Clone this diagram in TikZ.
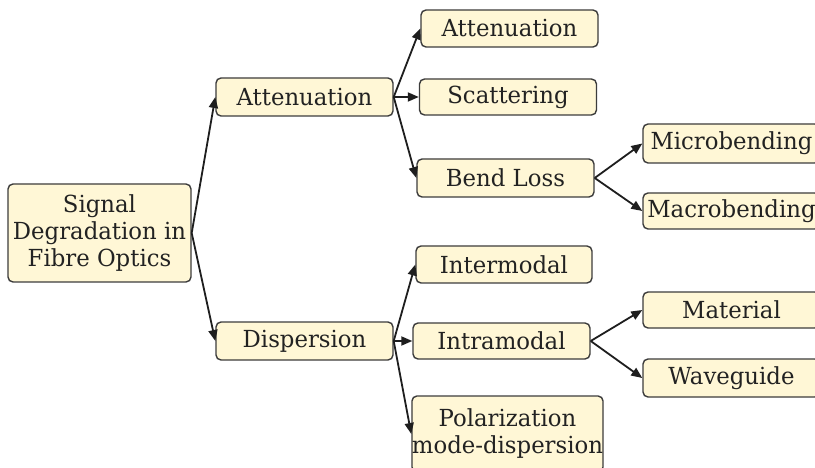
\documentclass[tikz,border=0pt]{standalone}
\usepackage{fontspec}
\setmainfont{DejaVu Serif}[FakeStretch=0.97]
\usetikzlibrary{arrows.meta}
\definecolor{boxfill}{HTML}{FFF7D6}
\definecolor{boxline}{HTML}{3C3C3C}
\definecolor{arrowcol}{HTML}{1E1E1E}
\definecolor{textcol}{HTML}{222222}
\tikzset{
  topic/.style={draw=boxline, line width=1.4pt, fill=boxfill, rounded corners=5pt,
    minimum width=177pt, minimum height=37pt, inner sep=0pt,
    font=\fontsize{23.5}{27}\selectfont, align=center, text=textcol},
  link/.style={draw=arrowcol, line width=1.8pt, -{Triangle[length=11pt,width=9pt]}},
}
\begin{document}
\begin{tikzpicture}[x=1pt,y=-1pt]
\useasboundingbox (0,0) rectangle (815,468);
\fill[white] (0,0) rectangle (815,468);
\clip (0,0) rectangle (815,468);

% root
\node[topic, minimum width=183pt, minimum height=98pt] (root) at (99.5,233)
  {Signal\\Degradation in\\Fibre Optics};

% first level
\node[topic, minimum height=38pt] (att) at (304.5,97) {Attenuation};
\node[topic, minimum height=38pt] (disp) at (304.5,341) {Dispersion};

% attenuation branch
\node[topic] (att2) at (509.5,28.5) {Attenuation};
\node[topic, minimum height=36pt] (scat) at (508,97) {Scattering};
\node[topic, minimum height=38pt] (bend) at (505.5,178) {Bend Loss};
\node[topic, minimum height=39pt] (micro) at (731.5,143.5) {Microbending};
\node[topic, minimum height=36pt] (macro) at (731.5,211) {Macrobending};

% dispersion branch
\node[topic, minimum width=176pt] (inter) at (504,264.5) {Intermodal};
\node[topic, minimum height=36pt] (intra) at (501.5,341) {Intramodal};
\node[topic, minimum width=191pt, minimum height=76pt] (pol) at (507.5,434)
  {Polarization\\mode-dispersion};
\node[topic, minimum height=36pt] (mat) at (731.5,310) {Material};
\node[topic, minimum height=38pt] (wave) at (731.5,378) {Waveguide};

% connectors
\draw[link] (root.east) -- (att.west);
\draw[link] (root.east) -- (disp.west);
\draw[link] (att.east) -- (att2.west);
\draw[link] (att.east) -- (scat.west);
\draw[link] (att.east) -- (bend.west);
\draw[link] (bend.east) -- (micro.west);
\draw[link] (bend.east) -- (macro.west);
\draw[link] (disp.east) -- (inter.west);
\draw[link] (disp.east) -- (intra.west);
\draw[link] (disp.east) -- (pol.west);
\draw[link] (intra.east) -- (mat.west);
\draw[link] (intra.east) -- (wave.west);
\end{tikzpicture}
\end{document}
